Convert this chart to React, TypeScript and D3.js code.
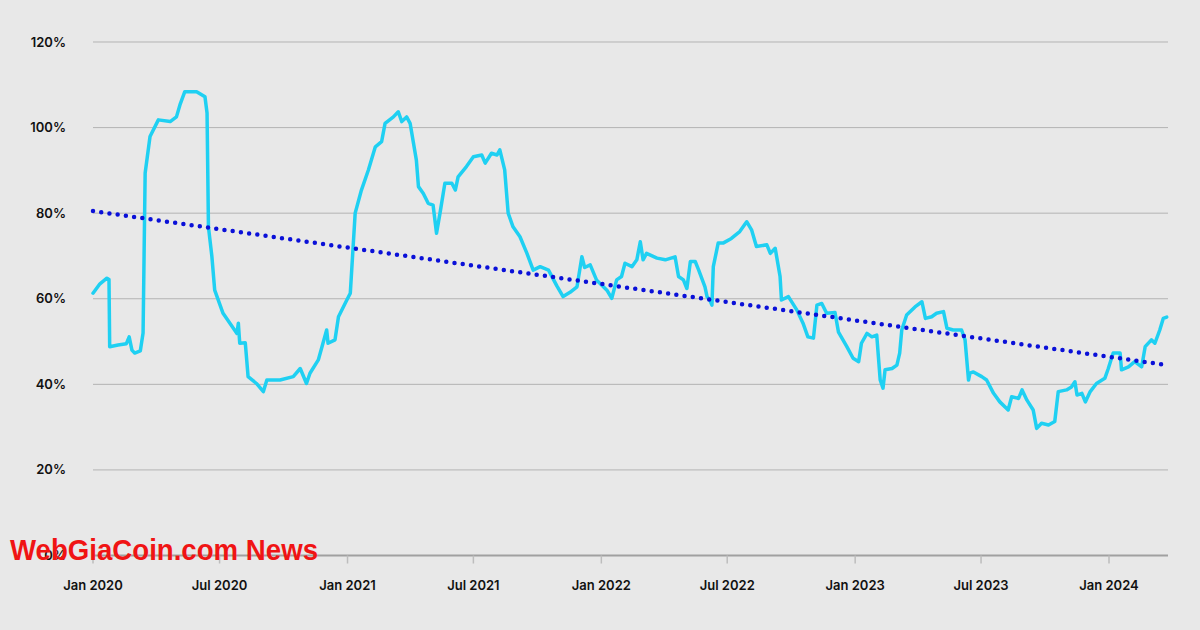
import React from "react";
import * as d3 from "d3";

const dates: string[] = [
  "2020-01-01","2020-01-11","2020-01-21","2020-01-24","2020-01-25","2020-02-06","2020-02-18","2020-02-22","2020-02-26","2020-03-01",
  "2020-03-09","2020-03-13","2020-03-16","2020-03-23","2020-04-04","2020-04-21","2020-04-30","2020-05-05","2020-05-12","2020-05-29",
  "2020-06-10","2020-06-13","2020-06-15","2020-06-20","2020-06-24","2020-07-06","2020-07-26","2020-07-28","2020-07-30","2020-08-07",
  "2020-08-11","2020-08-23","2020-09-02","2020-09-07","2020-09-26","2020-10-15","2020-10-25","2020-11-03","2020-11-08","2020-11-20",
  "2020-12-02","2020-12-04","2020-12-14","2020-12-19","2020-12-31","2021-01-05","2021-01-12","2021-01-21","2021-01-31","2021-02-10",
  "2021-02-19","2021-02-24","2021-03-08","2021-03-15","2021-03-20","2021-03-27","2021-04-01","2021-04-10","2021-04-13","2021-04-20",
  "2021-04-27","2021-05-04","2021-05-09","2021-05-14","2021-05-21","2021-05-31","2021-06-05","2021-06-09","2021-06-21","2021-07-01",
  "2021-07-13","2021-07-18","2021-07-27","2021-08-04","2021-08-08","2021-08-15","2021-08-20","2021-08-27","2021-09-06","2021-09-16",
  "2021-09-25","2021-10-05","2021-10-17","2021-10-29","2021-11-07","2021-11-17","2021-11-27","2021-12-04","2021-12-08","2021-12-16",
  "2021-12-25","2022-01-09","2022-01-16","2022-01-23","2022-01-30","2022-02-04","2022-02-14","2022-02-21","2022-02-26","2022-03-02",
  "2022-03-07","2022-03-22","2022-04-03","2022-04-17","2022-04-22","2022-04-29","2022-05-04","2022-05-09","2022-05-16","2022-05-21",
  "2022-05-30","2022-06-02","2022-06-06","2022-06-09","2022-06-11","2022-06-18","2022-06-25","2022-07-07","2022-07-19","2022-07-29",
  "2022-08-05","2022-08-12","2022-08-27","2022-09-01","2022-09-08","2022-09-15","2022-09-17","2022-09-27","2022-10-09","2022-10-18",
  "2022-10-25","2022-11-02","2022-11-07","2022-11-14","2022-11-21","2022-12-03","2022-12-08","2022-12-20","2022-12-29","2023-01-06",
  "2023-01-10","2023-01-18","2023-01-25","2023-02-01","2023-02-06","2023-02-10","2023-02-13","2023-02-23","2023-03-02","2023-03-06",
  "2023-03-09","2023-03-16","2023-03-28","2023-04-07","2023-04-12","2023-04-21","2023-04-28","2023-05-08","2023-05-13","2023-05-22",
  "2023-06-03","2023-06-08","2023-06-13","2023-06-15","2023-06-20","2023-07-02","2023-07-09","2023-07-19","2023-07-28","2023-08-09",
  "2023-08-14","2023-08-24","2023-08-29","2023-09-05","2023-09-14","2023-09-19","2023-09-26","2023-10-06","2023-10-15","2023-10-20",
  "2023-11-01","2023-11-08","2023-11-13","2023-11-16","2023-11-23","2023-11-28","2023-12-05","2023-12-14","2023-12-26","2023-12-31",
  "2024-01-07","2024-01-17","2024-01-19","2024-01-29","2024-02-07","2024-02-17","2024-02-22","2024-03-02","2024-03-07","2024-03-14",
  "2024-03-19","2024-03-24",
];

const values: number[] = [
  61.3,63.5,64.8,64.5,48.8,49.2,49.5,51.1,48.0,47.3,
  47.8,52.0,89.4,97.9,101.8,101.4,102.5,105.3,108.4,108.4,
  107.2,103.4,76.8,69.8,62.0,56.6,51.9,54.3,49.6,49.7,
  41.8,40.2,38.3,41.0,41.0,41.8,43.7,40.2,42.6,45.7,
  52.7,49.6,50.4,55.8,59.7,61.3,80.0,85.4,90.1,95.5,
  96.7,101.0,102.5,103.7,101.4,102.5,101.0,92.4,86.2,84.6,
  82.3,81.9,75.3,80.0,87.0,87.0,85.4,88.5,90.9,93.2,
  93.6,91.7,94.0,93.6,94.8,90.1,80.0,76.8,74.5,70.6,
  66.7,67.5,66.7,63.0,60.5,61.5,62.8,69.8,67.3,67.9,
  64.4,62.0,60.1,64.4,65.2,68.3,67.5,69.1,73.3,69.1,
  70.6,69.5,69.1,69.8,65.2,64.4,62.4,68.7,68.7,66.7,
  62.8,60.5,59.7,58.5,67.5,73.0,73.0,74.1,75.7,78.0,
  76.1,72.2,72.6,70.6,71.8,65.2,59.7,60.5,57.4,54.3,
  51.1,50.8,58.5,58.9,56.6,56.8,52.2,48.8,46.1,45.3,
  49.6,51.9,51.1,51.5,41.0,39.1,43.4,43.7,44.5,47.3,
  52.7,56.2,58.1,59.3,55.4,55.8,56.6,57.0,53.1,52.7,
  52.7,50.4,41.0,42.6,42.9,41.8,41.0,37.9,35.9,34.0,
  37.1,36.7,38.7,36.3,34.0,29.7,30.9,30.5,31.3,38.3,
  38.7,39.4,40.6,37.5,37.9,35.9,38.3,40.2,41.4,43.7,
  47.3,47.3,43.4,44.1,45.3,44.1,48.8,50.4,49.6,52.7,
  55.4,55.7,
];

const trendDates: string[] = ["2020-01-01", "2024-03-24"];
const trendValues: number[] = [80.5, 44.5];

const yTicks: number[] = [0, 20, 40, 60, 80, 100, 120];
const xTickDates: string[] = [
  "2020-01-01","2020-07-01","2021-01-01","2021-07-01","2022-01-01",
  "2022-07-01","2023-01-01","2023-07-01","2024-01-01",
];
const xTickLabels: string[] = [
  "Jan 2020","Jul 2020","Jan 2021","Jul 2021","Jan 2022",
  "Jul 2022","Jan 2023","Jul 2023","Jan 2024",
];

const W = 1200;
const H = 630;
const left = 93;
const right = 1168;
const top = 42;
const bottom = 555.5;

export default function App() {
  const parse = d3.timeParse("%Y-%m-%d");
  const x = d3
    .scaleTime()
    .domain([parse("2020-01-01")!, parse("2024-01-01")!])
    .range([left, 1109]);
  const y = d3.scaleLinear().domain([0, 120]).range([bottom, top]);

  const pts = dates.map((d, i) => [parse(d)!, values[i]] as [Date, number]);
  const line = d3
    .line<[Date, number]>()
    .x((d) => x(d[0]))
    .y((d) => y(d[1]))
    .curve(d3.curveLinear);
  const trendPts = trendDates.map((d, i) => [parse(d)!, trendValues[i]] as [Date, number]);

  const font = "Inter, 'Noto Sans', sans-serif";

  return (
    <svg
      width={W}
      height={H}
      style={{ position: "absolute", left: 0, top: 0, background: "#e8e8e8" }}
    >
      <rect x={0} y={0} width={W} height={H} fill="#e8e8e8" />
      {yTicks.map((t) =>
        t === 0 ? null : (
          <line
            key={t}
            x1={left}
            x2={right}
            y1={y(t)}
            y2={y(t)}
            stroke="#b3b3b3"
            strokeWidth={1}
          />
        )
      )}
      <line x1={left} x2={right} y1={y(0)} y2={y(0)} stroke="#a0a0a0" strokeWidth={2} />
      {xTickDates.map((d) => {
        const xx = x(parse(d)!);
        return (
          <line key={d} x1={xx} x2={xx} y1={y(0)} y2={y(0) + 8} stroke="#bdbdbd" strokeWidth={1.5} />
        );
      })}
      {yTicks.map((t) => (
        <text
          key={t}
          x={66}
          y={y(t)}
          dy="0.35em"
          textAnchor="end"
          fontFamily={font}
          fontWeight={600}
          fontSize={13}
          fill="#111"
        >
          {t}%
        </text>
      ))}
      {xTickDates.map((d, i) => (
        <text
          key={d}
          x={x(parse(d)!)}
          y={585}
          dy="0.35em"
          textAnchor="middle"
          fontFamily={font}
          fontWeight={600}
          fontSize={13}
          fill="#111"
        >
          {xTickLabels[i]}
        </text>
      ))}
      <path
        d={line(pts) || ""}
        fill="none"
        stroke="#1fd0f2"
        strokeWidth={3.5}
        strokeLinejoin="round"
        strokeLinecap="round"
      />
      <path
        d={line(trendPts) || ""}
        fill="none"
        stroke="#0a10d8"
        strokeWidth={4.5}
        strokeLinecap="round"
        strokeDasharray="0 8.3"
      />
      <text
        x={10}
        y={560}
        fontFamily="'Liberation Sans', Arial, sans-serif"
        fontWeight={700}
        fontSize={30}
        fill="#f01414"
        textLength={308}
        lengthAdjust="spacingAndGlyphs"
      >
        WebGiaCoin.com News
      </text>
    </svg>
  );
}
